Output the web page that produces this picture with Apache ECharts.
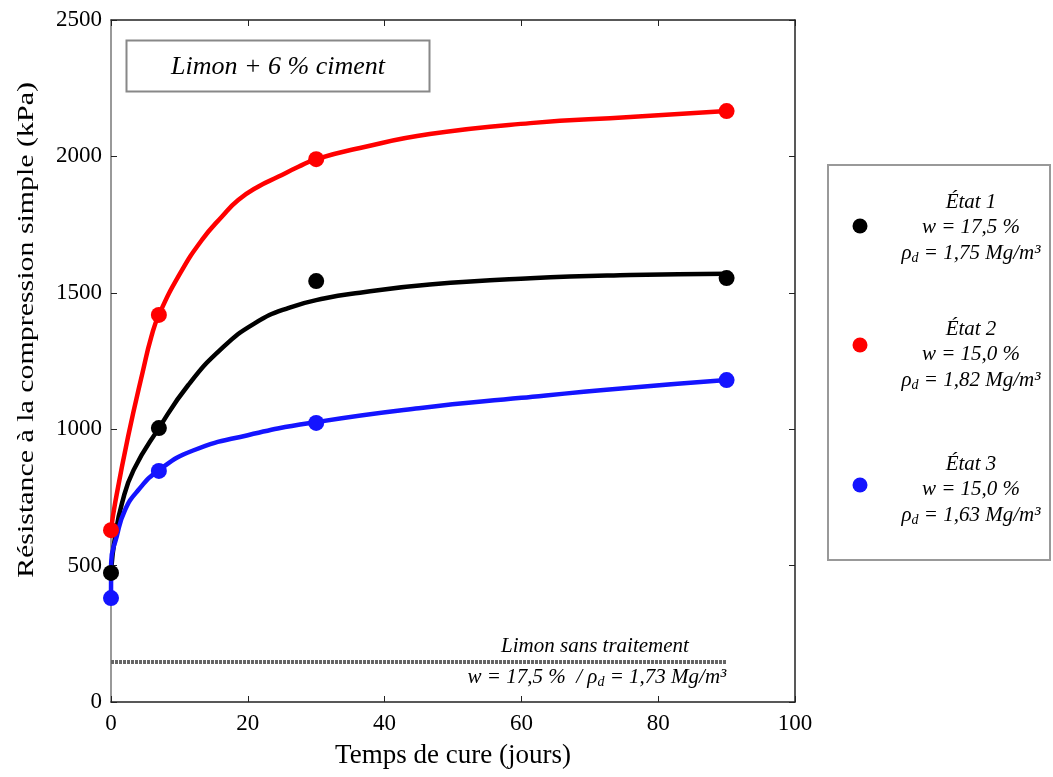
<!DOCTYPE html>
<html><head><meta charset="utf-8">
<script src="https://cdn.jsdelivr.net/npm/echarts@6/dist/echarts.min.js"></script>
<style>html,body{margin:0;padding:0;background:#fff}#c{width:1053px;height:777px}</style>
</head><body><div id="c"></div>
<script>
// measured points
const days = [0, 7, 30, 90];
const etat1 = [473, 1004, 1543, 1554];
const etat2 = [630, 1419, 1990, 2166];
const etat3 = [381, 847, 1023, 1180];
// fitted curves, values
const fit1Days = [0, 0.6, 1.6, 3.3, 7, 11.3, 16.2, 21, 26, 31.3, 36.4, 46.6, 61.3, 75.9, 90];
const fit1 = [480, 606, 728, 850, 1004, 1162, 1296, 1388, 1445, 1480, 1500, 1530, 1553, 1565, 1570];
const fit2Days = [0, 0.6, 2.5, 4.7, 5.9, 7, 10.1, 13.3, 16.2, 18.6, 21.5, 24.5, 27.4, 30, 36.4, 46.6, 61.3, 75.9, 90];
const fit2 = [630, 729, 973, 1217, 1339, 1419, 1571, 1694, 1779, 1840, 1889, 1926, 1962, 1990, 2031, 2082, 2122, 2144, 2166];
const fit3Days = [0, 0.02, 0.83, 2.05, 4, 7, 12, 20, 30, 45, 60, 75, 90];
const fit3 = [381, 509, 606, 704, 777, 850, 922, 978, 1026, 1077, 1115, 1150, 1180];
// untreated soil reference
const untreatedDays = [0, 90];
const untreatedValue = 147;
// axis ticks
const xTicks = [0, 20, 40, 60, 80, 100];
const yTicks = [0, 500, 1000, 1500, 2000, 2500];

const colors = ['#000000', '#ff0000', '#1414ff'];
const FONT = '"Liberation Serif", "Times New Roman", serif';
const zip = (a, b) => a.map((v, i) => [v, b[i]]);

const chart = echarts.init(document.getElementById('c'), null, {renderer: 'canvas'});

const axisCommon = (pos) => ({
  axisLine: {show: true, onZero: false, lineStyle: {color: pos === 'left' ? '#777' : '#222', width: 1.5}},
  axisTick: {show: true, inside: true, length: 6, lineStyle: {color: '#222', width: 1}},
  splitLine: {show: false}
});

const lineSeries = (d, v, c) => ({
  type: 'line', data: zip(d, v), smooth: 0.5, showSymbol: false,
  lineStyle: {color: c, width: 4.5}, z: 3, silent: true
});
const dotSeries = (v, c) => ({
  type: 'scatter', data: zip(days, v), symbol: 'circle', symbolSize: 16,
  itemStyle: {color: c, opacity: 1}, z: 4
});

const legendText = (lines, cy) => lines.map((t, i) => ({
  type: 'text',
  x: 971, y: cy + i * 25.5,
  style: {
    text: t, fill: '#000', align: 'center', verticalAlign: 'middle',
    rich: {
      i: {fontFamily: FONT, fontStyle: 'italic', fontSize: 21, fill: '#000'},
      s: {fontFamily: FONT, fontStyle: 'italic', fontSize: 14, fill: '#000', padding: [10, 0, 0, 0]}
    }
  }
}));

chart.setOption({
  animation: false,
  backgroundColor: '#fff',
  grid: {left: 111, right: 258, top: 20, bottom: 75, containLabel: false},
  xAxis: [
    Object.assign({
      type: 'value', min: xTicks[0], max: xTicks[xTicks.length - 1], interval: 20,
      position: 'bottom',
      axisLabel: {color: '#000', fontFamily: FONT, fontSize: 23, margin: 10, formatter: v => String(v)},
      name: 'Temps de cure (jours)', nameLocation: 'middle', nameGap: 40,
      nameTextStyle: {color: '#000', fontFamily: FONT, fontSize: 27}
    }, axisCommon('bottom')),
    Object.assign({
      type: 'value', min: 0, max: 100, interval: 20, position: 'top',
      axisLabel: {show: false}
    }, axisCommon('top'))
  ],
  yAxis: [
    Object.assign({
      type: 'value', min: yTicks[0], max: yTicks[yTicks.length - 1], interval: 500,
      position: 'left',
      axisLabel: {color: '#000', fontFamily: FONT, fontSize: 23, margin: 9, formatter: v => String(v)}
    }, axisCommon('left')),
    Object.assign({
      type: 'value', min: 0, max: 2500, interval: 500, position: 'right',
      axisLabel: {show: false}
    }, axisCommon('right'))
  ],
  series: [
    {
      type: 'line', data: untreatedDays.map(d => [d, untreatedValue]), showSymbol: false,
      lineStyle: {color: '#666', width: 4, type: [3, 1]}, z: 2, silent: true
    },
    lineSeries(fit1Days, fit1, colors[0]),
    lineSeries(fit2Days, fit2, colors[1]),
    lineSeries(fit3Days, fit3, colors[2]),
    dotSeries(etat1, colors[0]),
    dotSeries(etat2, colors[1]),
    dotSeries(etat3, colors[2])
  ],
  graphic: [
    {type: 'text', x: 27, y: 330, rotation: Math.PI / 2, scaleX: 1.3, z: 11,
     style: {text: 'Résistance à la compression simple (kPa)', fill: '#000', align: 'center',
             verticalAlign: 'middle', font: '23px ' + FONT}},
    {type: 'rect', shape: {x: 126.5, y: 40.5, width: 303, height: 51},
     style: {fill: '#fff', stroke: '#888', lineWidth: 2}, z: 10},
    {type: 'text', x: 278, y: 67, z: 11,
     style: {text: 'Limon + 6 % ciment', fill: '#000', align: 'center', verticalAlign: 'middle',
             font: 'italic 26px ' + FONT}},
    {type: 'text', x: 595, y: 646, z: 11,
     style: {text: 'Limon sans traitement', fill: '#000', align: 'center', verticalAlign: 'middle',
             font: 'italic 21px ' + FONT}},
    {type: 'text', x: 597, y: 677, z: 11,
     style: {text: '{i|w = 17,5 %  / ρ}{s|d}{i| = 1,73 Mg/m³}', align: 'center', verticalAlign: 'middle',
             rich: {
               i: {fontFamily: FONT, fontStyle: 'italic', fontSize: 21, fill: '#000'},
               s: {fontFamily: FONT, fontStyle: 'italic', fontSize: 14, fill: '#000', padding: [10, 0, 0, 0]}
             }}},
    {type: 'rect', shape: {x: 828, y: 165, width: 222, height: 395},
     style: {fill: '#fff', stroke: '#999', lineWidth: 2}, z: 10},
    {type: 'circle', shape: {cx: 860, cy: 226, r: 7.5}, style: {fill: colors[0]}, z: 11},
    {type: 'circle', shape: {cx: 860, cy: 345, r: 7.5}, style: {fill: colors[1]}, z: 11},
    {type: 'circle', shape: {cx: 860, cy: 485, r: 7.5}, style: {fill: colors[2]}, z: 11}
  ].concat(
    legendText(['{i|État 1}', '{i|w = 17,5 %}', '{i|ρ}{s|d}{i| = 1,75 Mg/m³}'], 202),
    legendText(['{i|État 2}', '{i|w = 15,0 %}', '{i|ρ}{s|d}{i| = 1,82 Mg/m³}'], 329),
    legendText(['{i|État 3}', '{i|w = 15,0 %}', '{i|ρ}{s|d}{i| = 1,63 Mg/m³}'], 464)
  ).map(g => Object.assign({z: 11}, g))
});
</script></body></html>
